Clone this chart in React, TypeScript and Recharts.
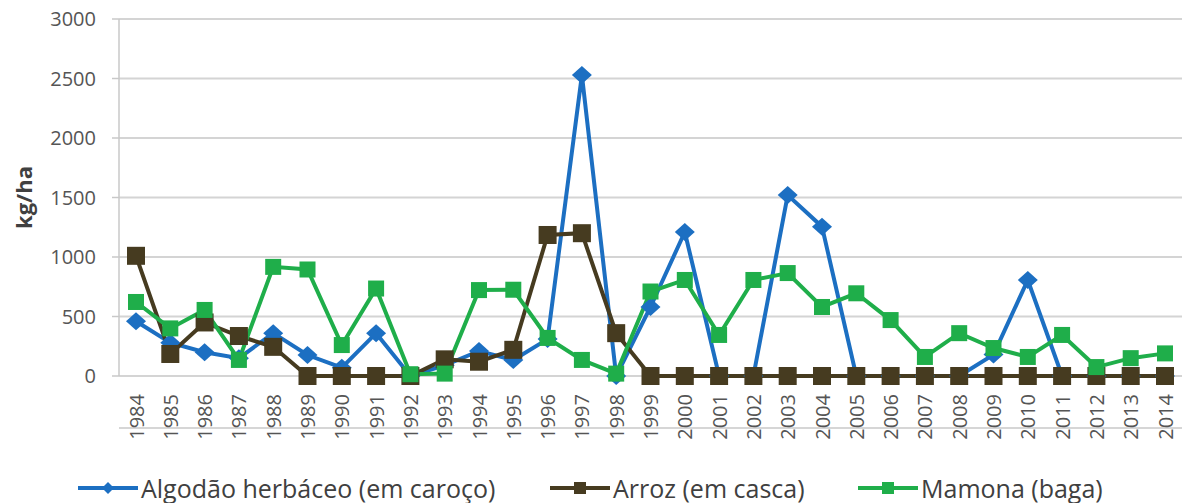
import { LineChart, Line, XAxis, YAxis, CartesianGrid } from "recharts";

const years = [
  "1984", "1985", "1986", "1987", "1988", "1989", "1990", "1991", "1992", "1993",
  "1994", "1995", "1996", "1997", "1998", "1999", "2000", "2001", "2002", "2003",
  "2004", "2005", "2006", "2007", "2008", "2009", "2010", "2011", "2012", "2013", "2014",
];

const algodao = [
  460, 280, 200, 150, 360, 176, 70, 360, 0, 90,
  210, 134, 310, 2530, 0, 580, 1210, 0, 0, 1520,
  1255, 0, 0, 0, 0, 180, 807, 0, 0, 0, 0,
];

const arroz = [
  1010, 185, 450, 336, 245, 0, 0, 0, 0, 140,
  120, 220, 1185, 1200, 360, 0, 0, 0, 0, 0,
  0, 0, 0, 0, 0, 0, 0, 0, 0, 0, 0,
];

const mamona = [
  622, 400, 555, 135, 917, 895, 260, 735, 15, 20,
  722, 725, 320, 135, 20, 710, 807, 345, 807, 865,
  580, 695, 470, 160, 360, 235, 160, 345, 75, 150, 190,
];

const yTicks = [0, 500, 1000, 1500, 2000, 2500, 3000];

const BLUE = "#1c6fc2";
const BROWN = "#463b20";
const GREEN = "#1fae4a";
const AXIS = "#c8c8c8";
const FONT = "'Open Sans', sans-serif";

const data = years.map((y, i) => ({
  year: y,
  idx: i,
  algodao: algodao[i],
  arroz: arroz[i],
  mamona: mamona[i],
}));

const boundaries = Array.from({ length: years.length + 1 }, (_, i) => i);

function Diamond(props: any) {
  const { cx, cy } = props;
  if (cx == null || cy == null) return null;
  return (
    <path
      d={`M${cx},${cy - 9} L${cx + 10},${cy} L${cx},${cy + 9} L${cx - 10},${cy} Z`}
      fill={BLUE}
    />
  );
}

function makeSquare(color: string, size: number) {
  return (props: any) => {
    const { cx, cy } = props;
    if (cx == null || cy == null) return null;
    return <rect x={cx - size / 2} y={cy - size / 2} width={size} height={size} fill={color} />;
  };
}

function YearTick(props: any) {
  const { x, y, payload } = props;
  return (
    <text
      x={x}
      y={y}
      transform={`rotate(-90, ${x}, ${y})`}
      textAnchor="end"
      dominantBaseline="central"
      fontSize={20}
      fontFamily={FONT}
      fill="#555555"
    >
      {payload.value}
    </text>
  );
}

function LegendIcon({ color, shape }: { color: string; shape: string }) {
  return (
    <svg width={60} height={20} style={{ display: "block" }}>
      <line x1={0} y1={10} x2={60} y2={10} stroke={color} strokeWidth={4} />
      {shape === "diamond" ? (
        <path d="M30,4 L36,10 L30,16 L24,10 Z" fill={color} />
      ) : (
        <rect x={24} y={4} width={12} height={12} fill={color} />
      )}
    </svg>
  );
}

const legendItems = [
  { label: "Algodão herbáceo (em caroço)", color: BLUE, shape: "diamond", left: 78 },
  { label: "Arroz (em casca)", color: BROWN, shape: "square", left: 550 },
  { label: "Mamona (baga)", color: GREEN, shape: "square", left: 858 },
];

export default function App() {
  return (
    <div style={{ position: "absolute", left: 0, top: 0, width: 1182, height: 503, background: "#fff" }}>
      <LineChart width={1182} height={503} data={data} margin={{ top: 19, right: 0, left: 0, bottom: 67 }}>
        <CartesianGrid vertical={false} stroke="#d4d4d4" strokeWidth={1.8} />
        <XAxis
          xAxisId="grid"
          type="number"
          dataKey="idx"
          domain={[0, years.length]}
          ticks={boundaries}
          interval={0}
          allowDataOverflow
          tick={false}
          tickSize={7}
          tickLine={{ stroke: AXIS, strokeWidth: 1.5 }}
          axisLine={{ stroke: AXIS, strokeWidth: 1.5 }}
          height={8}
        />
        <XAxis
          xAxisId="cat"
          dataKey="year"
          interval={0}
          padding={{ left: 17, right: 17 }}
          tick={<YearTick />}
          tickLine={false}
          axisLine={false}
          tickSize={0}
          tickMargin={18}
          height={52}
        />
        <YAxis
          width={119}
          domain={[0, 3000]}
          ticks={yTicks}
          interval={0}
          tickSize={7}
          tickMargin={16}
          tickLine={{ stroke: AXIS, strokeWidth: 1.5 }}
          axisLine={{ stroke: AXIS, strokeWidth: 1.5 }}
          tick={{ fontSize: 20, fontFamily: FONT, fill: "#555555" }}
          label={{
            value: "kg/ha",
            angle: -90,
            position: "insideLeft",
            offset: 24,
            style: { fontSize: 22, fontWeight: 700, fontFamily: FONT, fill: "#404040", textAnchor: "middle" },
          }}
        />
        <Line
          xAxisId="cat"
          dataKey="algodao"
          stroke={BLUE}
          strokeWidth={4}
          dot={<Diamond />}
          activeDot={false}
          isAnimationActive={false}
        />
        <Line
          xAxisId="cat"
          dataKey="arroz"
          stroke={BROWN}
          strokeWidth={4}
          dot={makeSquare(BROWN, 18)}
          activeDot={false}
          isAnimationActive={false}
        />
        <Line
          xAxisId="cat"
          dataKey="mamona"
          stroke={GREEN}
          strokeWidth={4}
          dot={makeSquare(GREEN, 16)}
          activeDot={false}
          isAnimationActive={false}
        />
      </LineChart>
      {legendItems.map((it) => (
        <div
          key={it.label}
          style={{
            position: "absolute",
            left: it.left,
            top: 475,
            display: "flex",
            alignItems: "center",
            fontFamily: FONT,
            fontSize: 25,
            color: "#404040",
            lineHeight: "26px",
            whiteSpace: "nowrap",
          }}
        >
          <LegendIcon color={it.color} shape={it.shape} />
          <span style={{ marginLeft: 3 }}>{it.label}</span>
        </div>
      ))}
    </div>
  );
}
